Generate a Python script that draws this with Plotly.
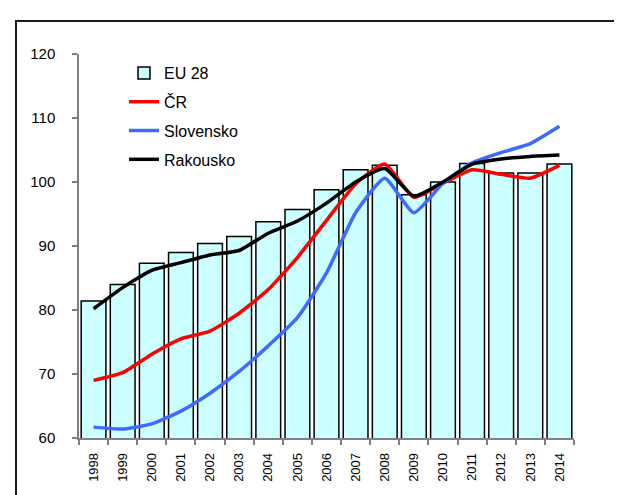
import plotly.graph_objects as go

years = [str(y) for y in range(1998, 2015)]
eu28 = [81.4, 84.0, 87.3, 89.0, 90.4, 91.5, 93.8, 95.7, 98.8, 101.9, 102.6, 98.0, 100.0, 102.9, 101.4, 101.4, 102.8]
cr = [69.0, 70.2, 73.1, 75.5, 76.7, 79.5, 83.2, 88.2, 94.0, 99.7, 102.8, 97.6, 99.8, 101.9, 101.2, 100.6, 102.6]
sk = [61.7, 61.4, 62.2, 64.2, 67.0, 70.4, 74.4, 78.8, 85.8, 95.2, 100.6, 95.2, 99.8, 103.0, 104.6, 106.0, 108.7]
at = [80.2, 83.5, 86.2, 87.4, 88.6, 89.3, 92.0, 93.9, 96.7, 100.0, 102.1, 97.8, 100.0, 102.8, 103.6, 104.0, 104.2]
y_ticks = [60, 70, 80, 90, 100, 110, 120]

FONT = "Liberation Sans, Arial, sans-serif"
W, H = 622, 495
L, R, T, B = 71, 56, 46, 65
pw, ph = W - L - R, H - T - B

fig = go.Figure()
fig.add_trace(go.Bar(x=years, y=eu28, name="EU 28", legendgroup="a",
                     marker=dict(color="#CCFFFF", line=dict(color="black", width=1.5))))
line_kw = dict(mode="lines", line_shape="spline")
fig.add_trace(go.Scatter(x=years, y=cr, name="ČR", legendgroup="b",
                         line=dict(color="#FF0000", width=3.5, smoothing=0.5), **line_kw))
fig.add_trace(go.Scatter(x=years, y=sk, name="Slovensko", legendgroup="c",
                         line=dict(color="#3D6BFF", width=3.5, smoothing=0.5), **line_kw))
fig.add_trace(go.Scatter(x=years, y=at, name="Rakousko", legendgroup="d",
                         line=dict(color="black", width=3.5, smoothing=0.5), **line_kw))

fig.update_layout(
    width=W, height=H,
    margin=dict(l=L, r=R, t=T, b=B),
    paper_bgcolor="white", plot_bgcolor="white",
    font=dict(family=FONT, color="black"),
    bargap=0.15,
    showlegend=True,
    legend=dict(x=(116 - L) / pw, y=(430 - 48) / ph, xanchor="left", yanchor="top",
                bgcolor="rgba(0,0,0,0)", borderwidth=0, traceorder="grouped",
                tracegroupgap=5, font=dict(size=16, family=FONT)),
    xaxis=dict(type="category", range=[-0.5, 16.5], tickson="boundaries",
               ticks="outside", ticklen=5, tickcolor="#808080", tickwidth=1.5,
               showline=True, linecolor="#808080", linewidth=1.5,
               tickangle=-90, tickfont=dict(size=13, family=FONT),
               showgrid=False, ticklabelstandoff=8),
    yaxis=dict(range=[60, 120], tickvals=y_ticks, ticks="outside", ticklen=5,
               tickcolor="#808080", tickwidth=1.5,
               showline=True, linecolor="#808080", linewidth=1.5,
               tickfont=dict(size=15, family=FONT), showgrid=False, zeroline=False,
               ticklabelstandoff=14),
    shapes=[dict(type="rect", xref="paper", yref="paper",
                 x0=(8 - L) / pw, x1=1.3, y0=-0.5, y1=(430 - 13) / ph,
                 line=dict(color="#1a1a1a", width=2), fillcolor="rgba(0,0,0,0)",
                 layer="below")],
)

fig.write_html("out.html")
